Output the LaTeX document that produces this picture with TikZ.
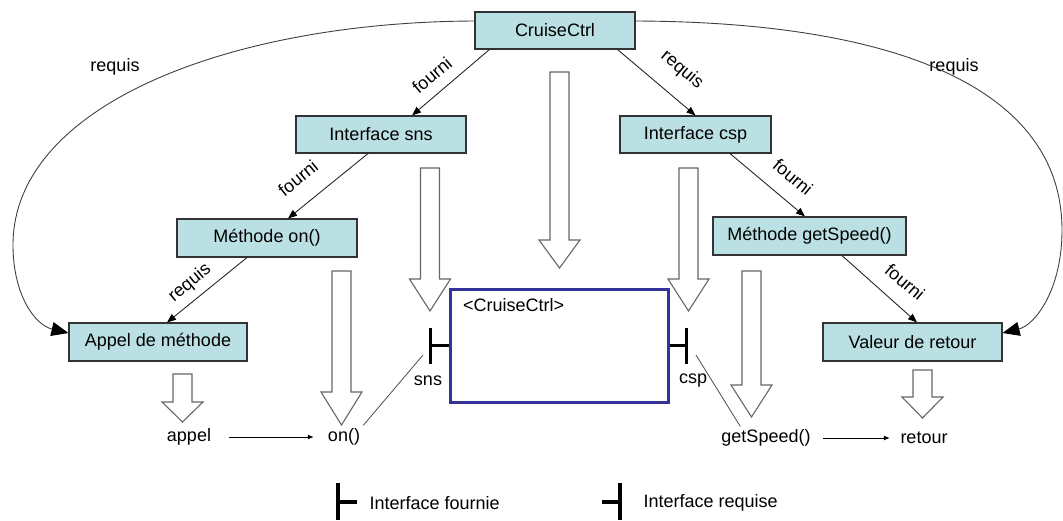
\documentclass[tikz,border=0pt]{standalone}
\usepackage{fontspec}
\setmainfont{Liberation Sans}
\usetikzlibrary{arrows.meta,calc}
\definecolor{boxfill}{HTML}{BBE0E3}
\definecolor{boxline}{HTML}{333333}
\definecolor{compblue}{HTML}{333399}
\definecolor{arrline}{HTML}{666666}
\newcommand{\hollowarr}[4]{\draw[hollow] (#1-9.5,#2) -- (#1+9.5,#2) -- (#1+9.5,#3) -- (#1+20.5,#3) -- (#1,#4) -- (#1-20.5,#3) -- (#1-9.5,#3) -- cycle;}
\begin{document}
\begin{tikzpicture}[x=1pt,y=-1pt,
  every node/.style={font=\fontsize{18}{21}\selectfont},
  box/.style={draw=boxline,fill=boxfill,line width=1.1pt,minimum height=37pt,inner sep=0pt},
  txt/.style={inner sep=3pt},
  lbl/.style={inner sep=0pt},
  conn/.style={draw=black!85,line width=0.9pt,-{Triangle[length=9pt,width=7pt,color=black]}},
  bigconn/.style={draw=black!75,line width=0.9pt,-{Triangle[length=17pt,width=14pt,color=black]}},
  thinline/.style={draw=black!70,line width=0.8pt},
  smallarr/.style={draw=black,line width=0.9pt,-{Latex[length=6pt,width=5pt]}},
  hollow/.style={draw=arrline,fill=white,line width=1.1pt},
  lolli/.style={draw=black,line width=3.5pt},
]
\useasboundingbox (0,0) rectangle (1063,520);

% hollow block arrows
\hollowarr{559.5}{72}{240}{268}
\hollowarr{430}{168}{279}{311}
\hollowarr{688.5}{168}{279}{311}
\hollowarr{341.5}{271}{392}{425}
\hollowarr{751.5}{271}{385}{417}
\hollowarr{182.5}{374}{402}{422}
\hollowarr{922.5}{370}{397}{418}

% boxes
\node[box,minimum width=160pt] (cc) at (555,30.5) {CruiseCtrl};
\node[box,minimum width=170pt] (isns) at (381,134.5) {Interface sns};
\node[box,minimum width=151pt] (icsp) at (695.5,134.5) {Interface csp};
\node[box,minimum width=180pt,minimum height=38pt] (mon) at (267,238) {Méthode on()};
\node[box,minimum width=193pt,minimum height=38pt] (mgs) at (809.5,236) {Méthode getSpeed()};
\node[box,minimum width=178pt,minimum height=38pt] (mapp) at (158,342) {Appel de méthode};
\node[box,minimum width=179pt,minimum height=38pt] (mval) at (912.5,342) {Valeur de retour};

% component
\node[draw=compblue,line width=3pt,minimum width=218pt,minimum height=113pt,inner sep=0pt] (comp) at (559,345.5) {};
\node[anchor=west,inner sep=0pt] (compname) at (463,305) {<CruiseCtrl>};

% lollipops
\draw[lolli] (comp.west) -- ++(-18,0);
\draw[lolli] ($(comp.west)+(-18,-18)$) -- ++(0,36);
\draw[lolli] (comp.east) -- ++(17,0);
\draw[lolli] ($(comp.east)+(17,-18)$) -- ++(0,36);

% texts
\node[txt] (appel) at (189,437) {appel};
\node[txt] (on) at (344,437) {on()};
\node[txt] (gs) at (766,438) {getSpeed()};
\node[txt] (ret) at (924,438) {retour};
\node[txt] (sns) at (428,381) {sns};
\node[txt] (csp) at (693,381) {csp};

\coordinate (snsend) at (423,355);
\coordinate (cspend) at (696,355);
\draw[thinline] (snsend) -- (on.north east);
\draw[thinline] (cspend) -- ([xshift=22pt]gs.north west);

\draw[smallarr,shorten <=15pt,shorten >=11pt] (appel) -- (on);
\draw[smallarr,shorten <=9.5pt,shorten >=7.5pt] (gs) -- (ret);

% connectors
\draw[conn] ([xshift=15pt]cc.south west) -- ([xshift=31pt]isns.north);
\draw[conn] ([xshift=-13pt]isns.south) -- ([xshift=21pt]mon.north);
\draw[conn] ([xshift=-20pt]mon.south) -- ([xshift=9pt]mapp.north);
\draw[conn] ([xshift=-18pt]cc.south east) -- (icsp.north);
\draw[conn] ([xshift=34.5pt]icsp.south) -- ([xshift=-4.5pt]mgs.north);
\draw[conn] ([xshift=32.5pt]mgs.south) -- ([xshift=4.5pt]mval.north);

\node[lbl,rotate=40] (l1) at (432,75) {fourni};
\node[lbl,rotate=39] (l2) at (298,178) {fourni};
\node[lbl,rotate=39.5] (l3) at (190,283) {requis};
\node[lbl,rotate=-40] (l4) at (682,70) {requis};
\node[lbl,rotate=-40] (l5) at (793,177) {fourni};
\node[lbl,rotate=-40] (l6) at (905,282) {fourni};
\node[lbl] (l7) at (115,67) {requis};
\node[lbl] (l8) at (954,67) {requis};

% big curves
\draw[bigconn] ([yshift=9.5pt]cc.west) .. controls (230,22) and (13,105) .. (13,245) .. controls (13,295) and (35,325) .. ([yshift=9pt]mapp.west);
\draw[bigconn] ([yshift=9.5pt]cc.east) .. controls (900,22) and (1062,90) .. (1062,230) .. controls (1062,290) and (1035,325) .. ([yshift=9pt]mval.east);

% legend
\draw[lolli] (338,483) -- (338,520);
\draw[lolli] (338,502) -- (357,502);
\node[anchor=west] (lf) at (366,503) {Interface fournie};
\draw[lolli] (602,502) -- (620,502);
\draw[lolli] (620,483) -- (620,520);
\node[anchor=west] (lr) at (640,503) {Interface requise};
\end{tikzpicture}
\end{document}
